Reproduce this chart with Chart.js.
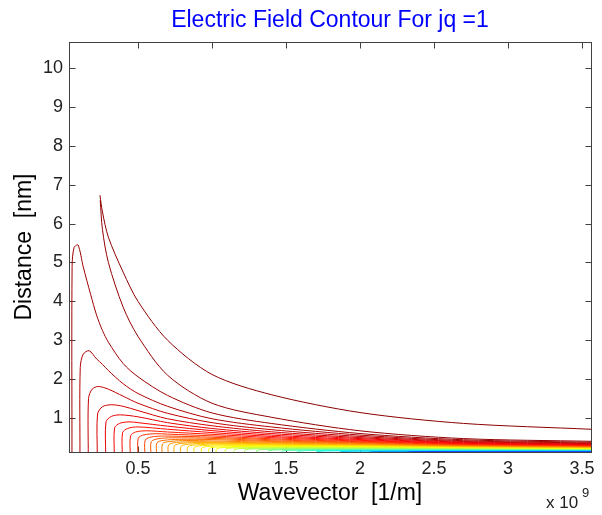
<!DOCTYPE html>
<html>
<head>
<meta charset="utf-8">
<script src="https://cdn.jsdelivr.net/npm/chart.js@4.4.1/dist/chart.umd.min.js"></script>
<style>
  html, body { margin: 0; padding: 0; background: #fff; }
</style>
</head>
<body>
<canvas id="c" width="602" height="515"></canvas>
<script>
// axis ranges and ticks (x in units of 1e9 1/m, y in nm)
const xRange = [0.034, 3.561];
const yRange = [0.125, 10.67];
const xTicks = [0.5, 1, 1.5, 2, 2.5, 3, 3.5];
const yTicks = [1, 2, 3, 4, 5, 6, 7, 8, 9, 10];

// contour lines, outermost (lowest level) first.
// foot = where the line leaves the bottom edge, leg/knee = left flank, peak = top of the arch
const footK = [null, null, 0.054, 0.108, 0.164, 0.225, 0.282, 0.34, 0.394, 0.448, 0.50, 0.547, 0.588, 0.626, 0.664, 0.705, 0.745, 0.79, 0.835, 0.88, 0.93, 0.98, 1.03, 1.09, 1.15, 1.22, 1.30, 1.38, 1.47, 1.57, 1.70, 1.85, 2.05, 2.30];
const legK  = [null, null, 0.055, 0.110, 0.166, 0.227, 0.284, 0.342, 0.396, 0.45, 0.502, 0.549, 0.59, 0.628, 0.666, 0.707, 0.747, 0.792, 0.837, 0.882, 0.932, 0.982, 1.032, 1.093, 1.153, 1.224, 1.305, 1.385, 1.476, 1.58, 1.71, 1.87, 2.07, 2.33];
const legZ  = [null, null, 4.9, 2.3, 1.5, 1.1, 0.9, 0.74, 0.62, 0.54, 0.48, 0.43, 0.39, 0.36, 0.335, 0.31, 0.29, 0.275, 0.26, 0.245, 0.23, 0.22, 0.21, 0.2, 0.19, 0.18, 0.17, 0.16, 0.152, 0.145, 0.138, 0.133, 0.129, 0.126];
const kneeK = [null, null, 0.068, 0.13, 0.19, 0.26, 0.32, 0.375, 0.43, 0.485, 0.54, 0.59, 0.635, 0.675, 0.715, 0.76, 0.805, 0.855, 0.905, 0.955, 1.01, 1.07, 1.125, 1.19, 1.26, 1.34, 1.43, 1.53, 1.65, 1.8, 1.95, 2.2, 2.5, 2.8];
const kneeZ = [null, null, 5.38, 2.64, 1.74, 1.29, 1.04, 0.86, 0.73, 0.64, 0.565, 0.51, 0.465, 0.425, 0.395, 0.37, 0.35, 0.33, 0.31, 0.295, 0.275, 0.255, 0.245, 0.232, 0.218, 0.205, 0.19, 0.18, 0.17, 0.162, 0.152, 0.144, 0.137, 0.131];
const peakK = [0.243, 0.245, 0.095, 0.17, 0.232, 0.32, 0.38, 0.44, 0.50, 0.56, 0.62, 0.68, 0.73, 0.78, 0.83, 0.88, 0.93, 0.99, 1.05, 1.10, 1.17, 1.24, 1.30, 1.38, 1.46, 1.56, 1.68, 1.82, 2.0, 2.3, 2.6, 3.0, 3.561, 3.561];
const peakZ = [6.73, 6.6, 5.45, 2.73, 1.81, 1.34, 1.08, 0.9, 0.77, 0.67, 0.595, 0.535, 0.49, 0.45, 0.42, 0.39, 0.37, 0.35, 0.33, 0.31, 0.29, 0.27, 0.26, 0.245, 0.23, 0.215, 0.2, 0.19, 0.18, 0.171, 0.16, 0.151, 0.142, 0.134];

// falling side: height of each contour at these wavevectors
const tailK = [0.13, 0.18, 0.22, 0.26, 0.3, 0.4, 0.5, 0.7, 1.0, 1.4, 2.0, 2.7, 3.561];
const zAt013 = [null, null, 4.89];
const zAt018 = [null, null, 4.18];
const zAt022 = [null, null, 3.65, 2.52];
const zAt026 = [6.3, 5.85, 3.25, 2.38];
const zAt030 = [5.65, 5.0, 2.95, 2.22, 1.74];
const zAt040 = [4.75, 3.85, 2.4, 1.88, 1.56, 1.3];
const zAt050 = [4.0, 3.1, 2.06, 1.63, 1.38, 1.19, 1.03, 0.88];
const zAt070 = [3.0, 2.1, 1.58, 1.3, 1.12, 0.98, 0.88, 0.79, 0.71, 0.64, 0.585];
const zAt100 = [2.12, 1.38, 1.13, 0.98, 0.88, 0.8, 0.73, 0.675, 0.625, 0.58, 0.54, 0.505, 0.475, 0.445, 0.41, 0.385, 0.365];
const zAt140 = [1.6, 1.02, 0.86, 0.77, 0.70, 0.645, 0.6, 0.56, 0.525, 0.495, 0.465, 0.44, 0.415, 0.395, 0.375, 0.357, 0.34, 0.326, 0.313, 0.3, 0.285, 0.268, 0.256];
const zAt200 = [1.14, 0.67, 0.6, 0.56, 0.525, 0.495, 0.47, 0.445, 0.425, 0.405, 0.388, 0.372, 0.357, 0.343, 0.33, 0.318, 0.306, 0.295, 0.285, 0.275, 0.265, 0.255, 0.246, 0.237, 0.227, 0.212, 0.198, 0.188];
const zAt270 = [0.86, 0.47, 0.44, 0.415, 0.395, 0.378, 0.362, 0.348, 0.335, 0.323, 0.312, 0.302, 0.292, 0.283, 0.275, 0.267, 0.259, 0.252, 0.245, 0.238, 0.231, 0.224, 0.217, 0.21, 0.203, 0.196, 0.189, 0.182, 0.176, 0.169, 0.159];
const zAtEdge = [0.71, 0.40, 0.375, 0.355, 0.34, 0.326, 0.313, 0.302, 0.292, 0.282, 0.273, 0.265, 0.257, 0.25, 0.243, 0.237, 0.231, 0.225, 0.219, 0.213, 0.207, 0.201, 0.195, 0.19, 0.184, 0.178, 0.173, 0.168, 0.163, 0.158, 0.153, 0.148];
const tailCols = [zAt013, zAt018, zAt022, zAt026, zAt030, zAt040, zAt050, zAt070, zAt100, zAt140, zAt200, zAt270, zAtEdge];

// line colours, dark red (outer) to blue (inner)
const palette = ['#8b0000', '#940000', '#9e0000', '#b00000', '#c20000', '#d40000', '#e60000', '#f50000',
  '#ff0a00', '#ff1a00', '#ff2e00', '#ff4200', '#ff5500', '#ff6a00', '#ff7e00', '#ff9200', '#ffa600',
  '#ffb800', '#ffca00', '#ffdc00', '#ffee00', '#ffff00', '#eaff10', '#d4ff2b', '#bfff40', '#a6ff59',
  '#8cff73', '#70ff8f', '#55ffaa', '#3affc5', '#10f0f0', '#00c8ff', '#0090ff', '#1040ff'];

const FONT = "'Liberation Sans', Arial, sans-serif";

function contourPoints(i) {
  const pts = [];
  if (footK[i] != null) pts.push({ x: footK[i], y: 0.05 });
  if (legK[i] != null) pts.push({ x: legK[i], y: legZ[i] });
  if (kneeK[i] != null) pts.push({ x: kneeK[i], y: kneeZ[i] });
  pts.push({ x: peakK[i], y: peakZ[i] });
  tailK.forEach((k, j) => {
    const v = tailCols[j][i];
    if (v != null && k > peakK[i]) pts.push({ x: k, y: v });
  });
  return pts;
}

// higher levels are drawn on top of lower ones
const datasets = footK.map((_, i) => ({
  data: contourPoints(i),
  showLine: true,
  borderColor: palette[i],
  borderWidth: 1,
  pointRadius: 0,
  tension: 0.3,
  fill: false,
  clip: 0,
  order: -i
}));

// box and inward ticks on all sides (under the contours), and the x10^9 multiplier
const framePlugin = {
  id: 'frame',
  beforeDatasetsDraw(chart) {
    const { ctx, chartArea: a, scales: { x, y } } = chart;
    const L = Math.round(a.left) + 0.5, R = Math.round(a.right) + 0.5;
    const T = Math.round(a.top) + 0.5, B = Math.round(a.bottom) + 0.5;
    ctx.save();
    ctx.strokeStyle = '#404040';
    ctx.lineWidth = 1;
    ctx.strokeRect(L, T, R - L, B - T);
    ctx.beginPath();
    xTicks.forEach(v => {
      const px = Math.round(x.getPixelForValue(v)) + 0.5;
      ctx.moveTo(px, B); ctx.lineTo(px, B - 6);
      ctx.moveTo(px, T); ctx.lineTo(px, T + 6);
    });
    yTicks.forEach(v => {
      const py = Math.round(y.getPixelForValue(v)) + 0.5;
      ctx.moveTo(L, py); ctx.lineTo(L + 6, py);
      ctx.moveTo(R, py); ctx.lineTo(R - 6, py);
    });
    ctx.stroke();
    ctx.restore();
  },
  afterDraw(chart) {
    const { ctx, chartArea: a } = chart;
    ctx.save();
    ctx.fillStyle = '#222';
    ctx.textBaseline = 'alphabetic';
    ctx.textAlign = 'left';
    ctx.font = '17px ' + FONT;
    ctx.fillText('x 10', a.right - 45, 508);
    ctx.font = '13px ' + FONT;
    ctx.fillText('9', a.right - 9, 497);
    ctx.restore();
  }
};

new Chart(document.getElementById('c'), {
  type: 'scatter',
  data: { datasets },
  options: {
    responsive: false,
    animation: false,
    events: [],
    layout: { padding: { left: 0, right: 11, top: 0, bottom: 0 } },
    plugins: {
      legend: { display: false },
      tooltip: { enabled: false },
      title: {
        display: true,
        fullSize: false,
        text: 'Electric Field Contour For jq =1',
        color: '#0000ff',
        font: { family: FONT, size: 23, weight: 'normal' },
        padding: { top: 6.5, bottom: 7.9 }
      }
    },
    scales: {
      x: {
        type: 'linear',
        min: xRange[0],
        max: xRange[1],
        grid: { display: false, drawTicks: false },
        border: { display: false },
        afterBuildTicks: s => { s.ticks = xTicks.map(v => ({ value: v })); },
        afterFit: s => { s.height = 63; s.paddingLeft = 0; s.paddingRight = 0; },
        ticks: {
          autoSkip: false, maxRotation: 0, padding: 6, color: '#222',
          font: { family: FONT, size: 18 },
          callback: v => String(v)
        },
        title: {
          display: true, text: 'Wavevector  [1/m]', color: '#000',
          font: { family: FONT, size: 23, weight: 'normal' },
          padding: { top: 0, bottom: 7.5 }
        }
      },
      y: {
        type: 'linear',
        min: yRange[0],
        max: yRange[1],
        grid: { display: false, drawTicks: false },
        border: { display: false },
        afterBuildTicks: s => { s.ticks = yTicks.map(v => ({ value: v })); },
        afterFit: s => { s.width = 69; s.paddingTop = 0; s.paddingBottom = 0; },
        ticks: {
          autoSkip: false, padding: 6, color: '#222',
          font: { family: FONT, size: 18 },
          callback: v => String(v)
        },
        title: {
          display: true, text: 'Distance  [nm]', color: '#000',
          font: { family: FONT, size: 23, weight: 'normal' },
          padding: { top: 11.2, bottom: 0 }
        }
      }
    }
  },
  plugins: [framePlugin]
});
</script>
</body>
</html>
